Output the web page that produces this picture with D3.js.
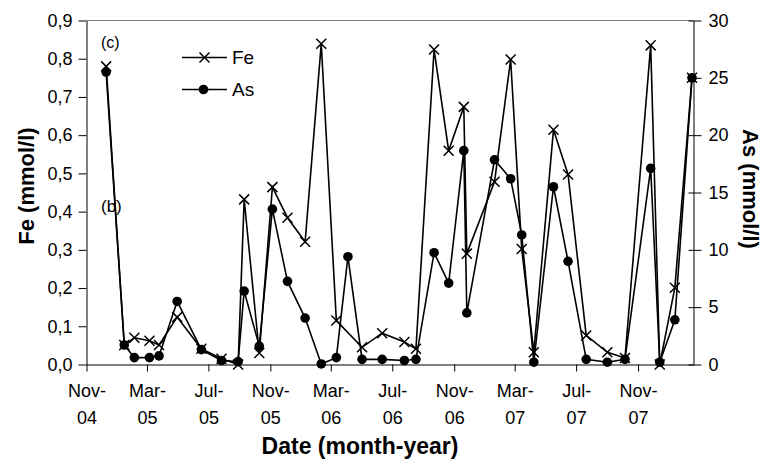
<!DOCTYPE html>
<html>
<head>
<meta charset="utf-8">
<script src="https://cdn.jsdelivr.net/npm/d3@7"></script>
<style>
  body { margin: 0; background: #fff; }
  svg { display: block; }
  text { font-family: "Liberation Sans", Arial, sans-serif; fill: #000; }
</style>
</head>
<body>
<div class="chart"></div>
<script>
// sampling dates
var dates = ["2004-12-10", "2005-01-15", "2005-02-04", "2005-03-06", "2005-03-25", "2005-04-30",
  "2005-06-17", "2005-07-27", "2005-08-29", "2005-09-10", "2005-10-10", "2005-11-05",
  "2005-12-05", "2006-01-09", "2006-02-10", "2006-03-12", "2006-04-04", "2006-05-02",
  "2006-06-11", "2006-07-25", "2006-08-17", "2006-09-22", "2006-10-21", "2006-11-20",
  "2006-11-26", "2007-01-20", "2007-02-21", "2007-03-15", "2007-04-08", "2007-05-17",
  "2007-06-15", "2007-07-21", "2007-09-01", "2007-10-06", "2007-11-26", "2007-12-14",
  "2008-01-13", "2008-02-16"];

// Fe (mmol/l), left axis; null = no sample
var feValues = [0.78, 0.051, 0.070, 0.062, 0.051, 0.124, 0.041, 0.015, 0.0, 0.432, 0.03, 0.464,
  0.384, 0.321, 0.839, 0.115, null, 0.045, 0.082, 0.059, 0.041, 0.824, 0.559, 0.674,
  0.29, 0.478, 0.798, 0.302, 0.032, 0.614, 0.497, 0.076, 0.032, 0.017, 0.835, 0.0,
  0.201, 0.75];

// As (mmol/l), right axis
var asValues = [25.5, 1.7, 0.6, 0.6, 0.75, 5.5, 1.3, 0.35, 0.25, 6.4, 1.6, 13.55,
  7.25, 4.05, 0.05, 0.6, 9.4, 0.45, 0.45, 0.35, 0.45, 9.75, 7.1, 18.65,
  4.5, 17.85, 16.2, 11.3, 0.2, 15.5, 9.0, 0.45, 0.2, 0.45, 17.1, 0.2,
  3.9, 25.0];

var feTicks = [0, 0.1, 0.2, 0.3, 0.4, 0.5, 0.6, 0.7, 0.8, 0.9];
var asTicks = [0, 5, 10, 15, 20, 25, 30];
var monthTicks = ["2004-11-01", "2005-03-01", "2005-07-01", "2005-11-01", "2006-03-01",
  "2006-07-01", "2006-11-01", "2007-03-01", "2007-07-01", "2007-11-01"];
var dateRange = ["2004-11-01", "2008-02-19"];

var margin = {top: 20.5, right: 69.5, bottom: 105.5, left: 86.5},
  width = 763 - margin.left - margin.right,
  height = 470 - margin.top - margin.bottom;

var parse = d3.timeParse("%Y-%m-%d");

var svg = d3.select(".chart")
  .append("svg")
  .attr("width", 763)
  .attr("height", 470);

var g = svg.append("g")
  .attr("transform", "translate(" + margin.left + "," + margin.top + ")");

var x = d3.scaleTime()
  .domain(dateRange.map(parse))
  .range([0, width]);

var yFe = d3.scaleLinear().domain([0, 0.9]).range([height, 0]);
var yAs = d3.scaleLinear().domain([0, 30]).range([height, 0]);

var comma = function(d) { return d3.format(".1f")(d).replace(".", ","); };

// plot frame top
g.append("line")
  .attr("x1", 0).attr("x2", width)
  .attr("y1", 0).attr("y2", 0)
  .attr("stroke", "#808080")
  .attr("stroke-width", 1);

// left axis
var axL = g.append("g")
  .call(d3.axisLeft(yFe).tickValues(feTicks).tickSize(8).tickSizeOuter(0).tickPadding(6).tickFormat(comma));
axL.selectAll("text").style("font-size", "18px");

// right axis, ticks cross the line
var axR = g.append("g")
  .attr("transform", "translate(" + width + ",0)")
  .call(d3.axisRight(yAs).tickValues(asTicks).tickSize(8).tickSizeOuter(0).tickPadding(7));
axR.selectAll(".tick line").attr("x1", -5);
axR.selectAll("text").style("font-size", "18px");

// bottom axis, two-line month labels
var axB = g.append("g")
  .attr("transform", "translate(0," + height + ")")
  .call(d3.axisBottom(x).tickValues(monthTicks.map(parse)).tickSize(7).tickSizeOuter(0).tickFormat(""));
axB.selectAll(".tick").append("text")
  .attr("y", 32)
  .attr("text-anchor", "middle")
  .style("font-size", "18px")
  .text(d3.timeFormat("%b-"));
axB.selectAll(".tick").append("text")
  .attr("y", 59)
  .attr("text-anchor", "middle")
  .style("font-size", "18px")
  .text(d3.timeFormat("%y"));

g.selectAll(".domain").attr("stroke", "#000");
g.selectAll(".tick line").attr("stroke", "#000");

var feData = dates.map(function(d, i) { return {date: parse(d), v: feValues[i]}; })
  .filter(function(d) { return d.v !== null; });
var asData = dates.map(function(d, i) { return {date: parse(d), v: asValues[i]}; });

var lineFe = d3.line()
  .x(function(d) { return x(d.date); })
  .y(function(d) { return yFe(d.v); });
var lineAs = d3.line()
  .x(function(d) { return x(d.date); })
  .y(function(d) { return yAs(d.v); });

g.append("path")
  .datum(feData)
  .attr("d", lineFe)
  .attr("fill", "none")
  .attr("stroke", "#000")
  .attr("stroke-width", 1.6);

g.append("path")
  .datum(asData)
  .attr("d", lineAs)
  .attr("fill", "none")
  .attr("stroke", "#000")
  .attr("stroke-width", 1.6);

var cross = d3.symbol(d3.symbolTimes, 67);

g.selectAll(".fe")
  .data(feData)
  .enter().append("path")
  .attr("class", "fe")
  .attr("transform", function(d) { return "translate(" + x(d.date) + "," + yFe(d.v) + ")"; })
  .attr("d", cross)
  .attr("fill", "none")
  .attr("stroke", "#000")
  .attr("stroke-width", 1.5);

g.selectAll(".as")
  .data(asData)
  .enter().append("circle")
  .attr("class", "as")
  .attr("cx", function(d) { return x(d.date); })
  .attr("cy", function(d) { return yAs(d.v); })
  .attr("r", 4.8)
  .attr("fill", "#000");

// legend
var legend = svg.append("g");
legend.append("line").attr("x1", 182).attr("x2", 227).attr("y1", 57.5).attr("y2", 57.5)
  .attr("stroke", "#000").attr("stroke-width", 1.6);
legend.append("path").attr("transform", "translate(204.5,57.5)").attr("d", cross)
  .attr("fill", "none").attr("stroke", "#000").attr("stroke-width", 1.5);
legend.append("text").attr("x", 232).attr("y", 64).style("font-size", "19px").text("Fe");
legend.append("line").attr("x1", 182).attr("x2", 227).attr("y1", 89.5).attr("y2", 89.5)
  .attr("stroke", "#000").attr("stroke-width", 1.6);
legend.append("circle").attr("cx", 203.5).attr("cy", 89.5).attr("r", 4.8).attr("fill", "#000");
legend.append("text").attr("x", 232).attr("y", 96).style("font-size", "19px").text("As");

// panel letters
svg.append("text").attr("x", 101).attr("y", 48).style("font-size", "16px").text("(c)");
svg.append("text").attr("x", 101).attr("y", 212).style("font-size", "17px").text("(b)");

// axis titles
svg.append("text")
  .attr("transform", "translate(34,186) rotate(-90)")
  .attr("text-anchor", "middle")
  .style("font-size", "22px").style("font-weight", "bold")
  .text("Fe (mmol/l)");
svg.append("text")
  .attr("transform", "translate(743,189) rotate(90)")
  .attr("text-anchor", "middle")
  .style("font-size", "22px").style("font-weight", "bold")
  .text("As (mmol/l)");
svg.append("text")
  .attr("x", 360).attr("y", 454)
  .attr("text-anchor", "middle")
  .style("font-size", "23px").style("font-weight", "bold")
  .text("Date (month-year)");
</script>
</body>
</html>
